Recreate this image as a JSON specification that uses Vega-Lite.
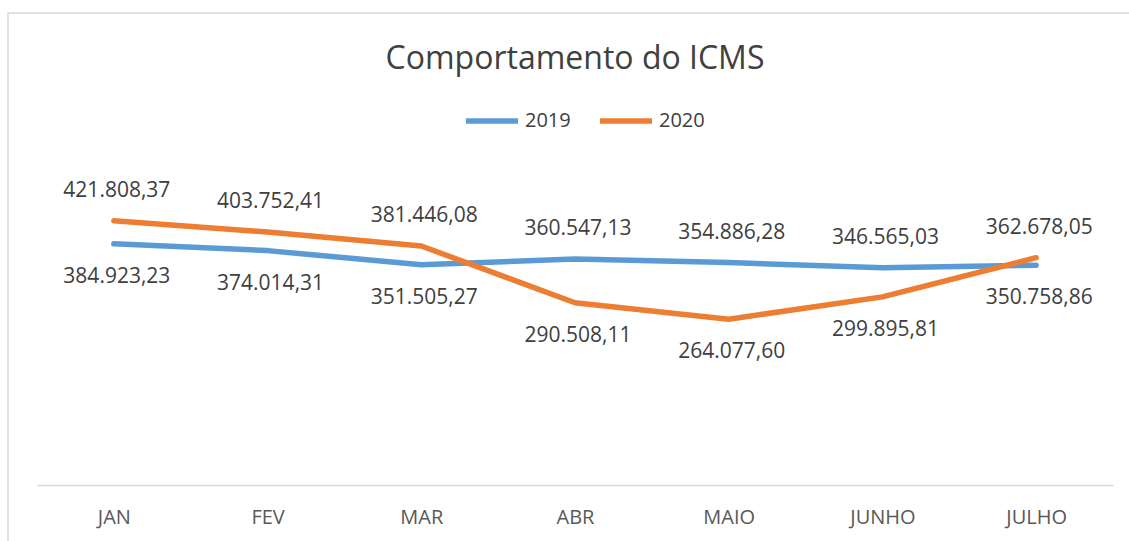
{
  "$schema": "https://vega.github.io/schema/vega-lite/v6.json",
  "width": 1134,
  "height": 540,
  "autosize": {"type": "none"},
  "padding": {"left": 8, "top": 13, "right": 0, "bottom": 0},
  "background": "white",
  "config": {
    "view": {"stroke": "#d9d9d9", "strokeWidth": 1.5},
    "font": "Open Sans",
    "locale": {"number": {"decimal": ",", "thousands": ".", "grouping": [3], "currency": ["R$ ", ""]}}
  },
  "title": {
    "text": "Comportamento do ICMS",
    "fontSize": 32,
    "fontWeight": "normal",
    "color": "#404040",
    "anchor": "middle",
    "frame": "group",
    "offset": -63
  },
  "data": {
    "values": [
      {"mes": "JAN", "ano": "2019", "valor": 384923.23},
      {"mes": "FEV", "ano": "2019", "valor": 374014.31},
      {"mes": "MAR", "ano": "2019", "valor": 351505.27},
      {"mes": "ABR", "ano": "2019", "valor": 360547.13},
      {"mes": "MAIO", "ano": "2019", "valor": 354886.28},
      {"mes": "JUNHO", "ano": "2019", "valor": 346565.03},
      {"mes": "JULHO", "ano": "2019", "valor": 350758.86},
      {"mes": "JAN", "ano": "2020", "valor": 421808.37},
      {"mes": "FEV", "ano": "2020", "valor": 403752.41},
      {"mes": "MAR", "ano": "2020", "valor": 381446.08},
      {"mes": "ABR", "ano": "2020", "valor": 290508.11},
      {"mes": "MAIO", "ano": "2020", "valor": 264077.60},
      {"mes": "JUNHO", "ano": "2020", "valor": 299895.81},
      {"mes": "JULHO", "ano": "2020", "valor": 362678.05}
    ]
  },
  "encoding": {
    "x": {
      "field": "mes",
      "type": "nominal",
      "sort": ["JAN", "FEV", "MAR", "ABR", "MAIO", "JUNHO", "JULHO"],
      "scale": {"type": "point", "range": [29, 1105], "padding": 0.5},
      "axis": {
        "title": null,
        "labelAngle": 0,
        "labelFontSize": 20,
        "labelColor": "#595959",
        "labelPadding": 22,
        "ticks": false,
        "tickSize": 0,
        "grid": false,
        "domain": true,
        "domainColor": "#d9d9d9",
        "domainWidth": 1.5,
        "offset": -68
      }
    },
    "y": {
      "field": "valor",
      "type": "quantitative",
      "scale": {"domain": [0, 500000], "range": [471, 159]},
      "axis": null
    }
  },
  "layer": [
    {
      "mark": {"type": "line", "strokeWidth": 5.5, "strokeCap": "round", "strokeJoin": "round"},
      "encoding": {
        "color": {
          "field": "ano",
          "type": "nominal",
          "scale": {"domain": ["2019", "2020"], "range": ["#5B9BD5", "#ED7D31"]},
          "legend": {
            "orient": "none",
            "legendX": 455,
            "legendY": 79,
            "direction": "horizontal",
            "title": null,
            "symbolType": "stroke",
            "symbolSize": 2700,
            "symbolStrokeWidth": 5.5,
            "labelFontSize": 20,
            "labelColor": "#404040",
            "columnPadding": 18,
            "padding": 0,
            "labelOffset": 4
          }
        }
      }
    },
    {
      "transform": [
        {"joinaggregate": [{"op": "max", "field": "valor", "as": "maxv"}], "groupby": ["mes"]},
        {"filter": "datum.valor == datum.maxv"}
      ],
      "mark": {"type": "text", "dy": -30, "dx": 3, "fontSize": 21, "color": "#404040"},
      "encoding": {"text": {"field": "valor", "type": "quantitative", "format": ",.2f"}}
    },
    {
      "transform": [
        {"joinaggregate": [{"op": "max", "field": "valor", "as": "maxv"}], "groupby": ["mes"]},
        {"filter": "datum.valor < datum.maxv"}
      ],
      "mark": {"type": "text", "dy": 33, "dx": 3, "fontSize": 21, "color": "#404040"},
      "encoding": {"text": {"field": "valor", "type": "quantitative", "format": ",.2f"}}
    }
  ]
}
